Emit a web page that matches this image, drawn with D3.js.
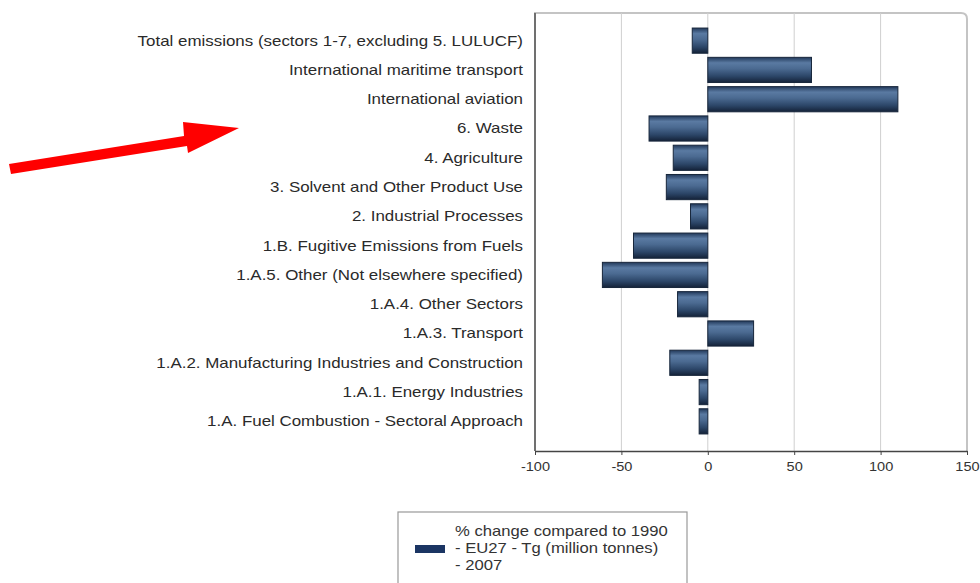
<!DOCTYPE html>
<html><head><meta charset="utf-8">
<script src="https://cdn.jsdelivr.net/npm/d3@7"></script>
<style>body{margin:0;background:#fff;} svg{display:block;}</style>
</head><body>
<script>
const categories = [
  "Total emissions (sectors 1-7, excluding 5. LULUCF)",
  "International maritime transport",
  "International aviation",
  "6. Waste",
  "4. Agriculture",
  "3. Solvent and Other Product Use",
  "2. Industrial Processes",
  "1.B. Fugitive Emissions from Fuels",
  "1.A.5. Other (Not elsewhere specified)",
  "1.A.4. Other Sectors",
  "1.A.3. Transport",
  "1.A.2. Manufacturing Industries and Construction",
  "1.A.1. Energy Industries",
  "1.A. Fuel Combustion - Sectoral Approach"
];
const values = [-9, 60, 110, -34, -20, -24, -10, -43, -61, -17.5, 26.5, -22, -5, -5];
const xTicks = [-100, -50, 0, 50, 100, 150];
const legendLines = ["% change compared to 1990", "- EU27 - Tg (million tonnes)", "- 2007"];

const W = 980, H = 583;
const svg = d3.select("body").append("svg").attr("width", W).attr("height", H);
const font = "'Liberation Sans', Arial, sans-serif";

const x = d3.scaleLinear().domain([-100, 150]).range([535, 967]);
const y = d3.scaleBand().domain(categories).range([26, 436]).paddingInner(0.14).paddingOuter(0.07);
const plotTop = 13, plotBottom = 451;

const defs = svg.append("defs");
const g = defs.append("linearGradient").attr("id", "barg").attr("x1", 0).attr("y1", 0).attr("x2", 0).attr("y2", 1);
[[0, "#22395a"], [0.22, "#5a7aa2"], [0.45, "#4b6a91"], [0.75, "#2c4668"], [1, "#142238"]]
  .forEach(([o, c]) => g.append("stop").attr("offset", o).attr("stop-color", c));

// plot frame
svg.append("path")
  .attr("d", `M${x(-100)},${plotBottom} L${x(-100)},${plotTop} L${x(150) - 6},${plotTop} Q${x(150)},${plotTop} ${x(150)},${plotTop + 6} L${x(150)},${plotBottom}`)
  .attr("fill", "none").attr("stroke", "#c4c4c4").attr("stroke-width", 2);

// grid
svg.append("g").selectAll("line").data(xTicks.filter(d => d > -100 && d < 150)).join("line")
  .attr("x1", d => x(d)).attr("x2", d => x(d)).attr("y1", plotTop).attr("y2", plotBottom)
  .attr("stroke", "#cfcfcf").attr("stroke-width", 1);

// left axis line
svg.append("line").attr("x1", x(-100)).attr("x2", x(-100)).attr("y1", plotTop).attr("y2", plotBottom)
  .attr("stroke", "#555").attr("stroke-width", 1.5);

// bars
svg.append("g").selectAll("rect").data(categories).join("rect")
  .attr("x", (d, i) => x(Math.min(0, values[i])))
  .attr("width", (d, i) => Math.abs(x(values[i]) - x(0)))
  .attr("y", d => y(d))
  .attr("height", y.bandwidth())
  .attr("fill", "url(#barg)")
  .attr("stroke", "#17263b").attr("stroke-width", 1);

// bottom axis
const xAxis = d3.axisBottom(x).tickValues(xTicks).tickFormat(d => String(d)).tickSize(4).tickSizeOuter(0);
const ax = svg.append("g").attr("transform", `translate(0,${plotBottom})`).call(xAxis);
ax.select(".domain").attr("stroke", "#444").attr("stroke-width", 1.5);
ax.selectAll(".tick line").attr("stroke", "#444");
ax.selectAll(".tick text").attr("font-family", font).attr("font-size", 13).attr("fill", "#333")
  .attr("y", 16).attr("dy", 0).attr("dominant-baseline", "central")
  .attr("transform", "scale(1.12,1)");

// category labels (horizontally stretched like the reference)
svg.append("g").attr("transform", "translate(523,0) scale(1.21,1)")
  .selectAll("text").data(categories).join("text")
  .attr("x", 0).attr("y", d => y(d) + y.bandwidth() / 2)
  .attr("text-anchor", "end").attr("dominant-baseline", "central")
  .attr("font-family", font).attr("font-size", 14).attr("fill", "#2a2a2a")
  .text(d => d);

// legend
svg.append("rect").attr("x", 398).attr("y", 512).attr("width", 289).attr("height", 90)
  .attr("fill", "#fff").attr("stroke", "#999").attr("stroke-width", 1.2);
svg.append("rect").attr("x", 415).attr("y", 545).attr("width", 30).attr("height", 8).attr("fill", "#1b3563");
svg.append("g").attr("transform", "translate(455,0) scale(1.19,1)")
  .selectAll("text").data(legendLines).join("text")
  .attr("x", 0).attr("y", (d, i) => 531 + i * 17)
  .attr("dominant-baseline", "central")
  .attr("font-family", font).attr("font-size", 14).attr("fill", "#333")
  .text(d => d);

// red arrow annotation
const arrow = [[9, 164], [184, 136], [183, 122], [239, 128], [188, 153], [187, 146], [11, 174]];
svg.append("path").attr("d", d3.line()(arrow) + "Z").attr("fill", "#ff0000");
</script>
</body></html>
